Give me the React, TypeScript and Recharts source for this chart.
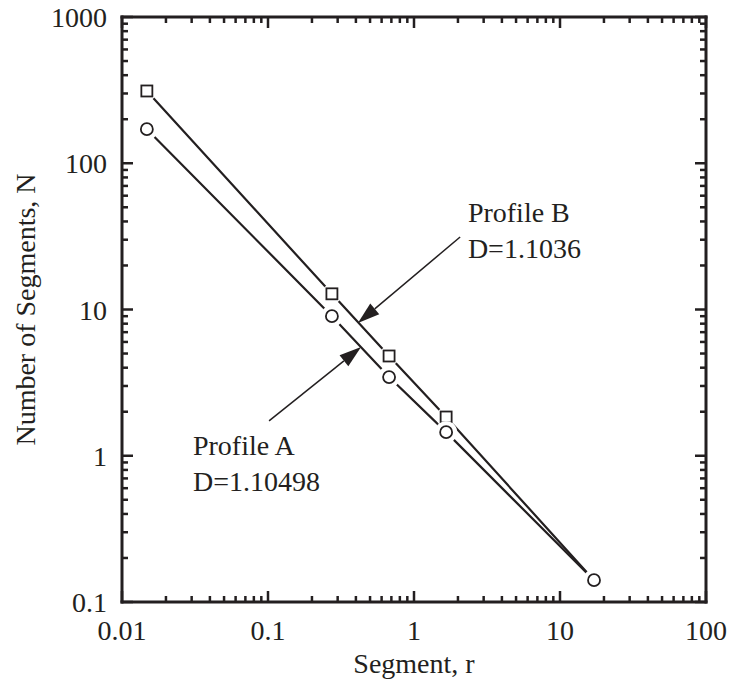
import React from "react";
import { LineChart, Line, XAxis, YAxis, ReferenceLine, ReferenceDot } from "recharts";

// segment length r, shared by both profiles
const segmentR = [0.0148, 0.274, 0.675, 1.66, 17.1];
// number of segments N
const countA = [171, 9.0, 3.45, 1.45, 0.141];
const countB = [312, 12.8, 4.81, 1.84, 0.141];

const xMajors = [0.01, 0.1, 1, 10, 100];
const yMajors = [0.1, 1, 10, 100, 1000];
const xTickLabels = ["0.01", "0.1", "1", "10", "100"];
const yTickLabels = ["0.1", "1", "10", "100", "1000"];
const minorSteps = [2, 3, 4, 5, 6, 7, 8, 9];

// annotations, in data units: [r, N]
const labelA = ["Profile A", "D=1.10498"];
const labelB = ["Profile B", "D=1.1036"];
const textPosA = [0.0306, 1.01];
const textPosB = [2.34, 39.7];
const arrowA = [[0.1017, 1.73], [0.434, 5.54]];
const arrowB = [[2.07, 31.3], [0.413, 8.09]];

const dataA = segmentR.map((r, i) => ({ r, n: countA[i] }));
const dataB = segmentR.map((r, i) => ({ r, n: countB[i] }));

const INK = "#231f20";
const FONT = '"Liberation Serif", "Times New Roman", serif';
const FS = 28;

const withMinors = (majors: number[]) => {
    const out: number[] = [];
    majors.forEach((m, i) => {
        out.push(m);
        if (i < majors.length - 1) minorSteps.forEach((s) => out.push(+(m * s).toPrecision(6)));
    });
    return out;
};
const xTicks = withMinors(xMajors);
const yTicks = withMinors(yMajors);

const majorIndex = (majors: number[], v: number) =>
    majors.findIndex((m) => Math.abs(m - v) < m * 1e-6);

const BottomTick = ({ x, y, payload }: any) => {
    const i = majorIndex(xMajors, payload.value);
    return (
        <g>
            <line x1={x} x2={x} y1={y} y2={y - (i >= 0 ? 11 : 6)} stroke={INK} strokeWidth={2.5} />
            {i >= 0 && (
                <text x={x} y={y + 38} textAnchor="middle" fontSize={FS} fontFamily={FONT} fill={INK}>
                    {xTickLabels[i]}
                </text>
            )}
        </g>
    );
};

const TopTick = ({ x, y, payload }: any) => {
    const i = majorIndex(xMajors, payload.value);
    return <line x1={x} x2={x} y1={y} y2={y + (i >= 0 ? 11 : 6)} stroke={INK} strokeWidth={2.5} />;
};

const LeftTick = ({ x, y, payload }: any) => {
    const i = majorIndex(yMajors, payload.value);
    return (
        <g>
            <line x1={x} x2={x + (i >= 0 ? 11 : 6)} y1={y} y2={y} stroke={INK} strokeWidth={2.5} />
            {i >= 0 && (
                <text x={x - 15} y={y + 10} textAnchor="end" fontSize={FS} fontFamily={FONT} fill={INK}>
                    {yTickLabels[i]}
                </text>
            )}
        </g>
    );
};

const RightTick = ({ x, y, payload }: any) => {
    const i = majorIndex(yMajors, payload.value);
    return <line x1={x} x2={x - (i >= 0 ? 11 : 6)} y1={y} y2={y} stroke={INK} strokeWidth={2.5} />;
};

const squareDot = (p: any) => {
    const { cx, cy, index } = p;
    if (cx == null || cy == null) return <g key={`sq-${index}`} />;
    return (
        <g key={`sq-${index}`}>
            <circle cx={cx} cy={cy} r={10} fill="#fff" />
            <rect x={cx - 5.5} y={cy - 5.5} width={11} height={11} fill="#fff" stroke={INK} strokeWidth={1.8} />
        </g>
    );
};

const circleDot = (p: any) => {
    const { cx, cy, index } = p;
    if (cx == null || cy == null) return <g key={`ci-${index}`} />;
    return (
        <g key={`ci-${index}`}>
            <circle cx={cx} cy={cy} r={11} fill="#fff" />
            <circle cx={cx} cy={cy} r={6} fill="#fff" stroke={INK} strokeWidth={1.8} />
        </g>
    );
};

const arrowShape = (p: any) => {
    const { x1, y1, x2, y2 } = p;
    const len = Math.hypot(x2 - x1, y2 - y1) || 1;
    const ux = (x2 - x1) / len;
    const uy = (y2 - y1) / len;
    const hl = 22;
    const hw = 7;
    const bx = x2 - ux * hl;
    const by = y2 - uy * hl;
    return (
        <g>
            <line x1={x1} y1={y1} x2={bx} y2={by} stroke={INK} strokeWidth={1.5} />
            <polygon
                points={`${x2},${y2} ${bx - uy * hw},${by + ux * hw} ${bx + uy * hw},${by - ux * hw}`}
                fill={INK}
            />
        </g>
    );
};

const textShape = (lines: string[]) => (p: any) => (
    <g>
        {lines.map((t, i) => (
            <text key={t} x={p.cx} y={p.cy + i * 36} fontSize={FS} fontFamily={FONT} fill={INK}>
                {t}
            </text>
        ))}
    </g>
);

const axisLine = { stroke: INK, strokeWidth: 3, strokeLinecap: "square" as const };

export default function App() {
    return (
        <div style={{ position: "absolute", left: 0, top: 0, width: 733, height: 700, background: "#fff" }}>
            <LineChart width={733} height={700} margin={{ top: 16, right: 0, bottom: 0, left: 0 }}>
                <XAxis
                    dataKey="r"
                    type="number"
                    scale="log"
                    domain={[0.01, 100]}
                    allowDataOverflow
                    ticks={xTicks}
                    interval={0}
                    tickSize={0}
                    tickMargin={0}
                    tick={<BottomTick />}
                    tickLine={false}
                    axisLine={axisLine}
                    height={98}
                    label={{
                        content: (p: any) => {
                            const vb = p.viewBox || {};
                            return (
                                <text x={vb.x + vb.width / 2} y={vb.y + 71} textAnchor="middle" fontSize={FS} fontFamily={FONT} fill={INK}>
                                    Segment, r
                                </text>
                            );
                        },
                    }}
                />
                <XAxis
                    xAxisId="top"
                    orientation="top"
                    dataKey="r"
                    type="number"
                    scale="log"
                    domain={[0.01, 100]}
                    allowDataOverflow
                    ticks={xTicks}
                    interval={0}
                    tickSize={0}
                    tickMargin={0}
                    tick={<TopTick />}
                    tickLine={false}
                    axisLine={axisLine}
                    height={1}
                />
                <YAxis
                    type="number"
                    scale="log"
                    domain={[0.1, 1000]}
                    allowDataOverflow
                    ticks={yTicks}
                    interval={0}
                    tickSize={0}
                    tickMargin={0}
                    tick={<LeftTick />}
                    tickLine={false}
                    axisLine={axisLine}
                    width={122}
                    label={{
                        content: (p: any) => {
                            const vb = p.viewBox || {};
                            const cx = vb.x + 35;
                            const cy = vb.y + vb.height / 2;
                            return (
                                <text
                                    x={cx}
                                    y={cy}
                                    transform={`rotate(-90 ${cx} ${cy})`}
                                    textAnchor="middle"
                                    fontSize={FS}
                                    fontFamily={FONT}
                                    fill={INK}
                                >
                                    Number of Segments, N
                                </text>
                            );
                        },
                    }}
                />
                <YAxis
                    yAxisId="right"
                    orientation="right"
                    type="number"
                    scale="log"
                    domain={[0.1, 1000]}
                    allowDataOverflow
                    ticks={yTicks}
                    interval={0}
                    tickSize={0}
                    tickMargin={0}
                    tick={<RightTick />}
                    tickLine={false}
                    axisLine={axisLine}
                    width={27}
                />

                <Line
                    data={dataB}
                    dataKey="n"
                    type="linear"
                    stroke={INK}
                    strokeWidth={2.2}
                    dot={squareDot}
                    activeDot={false}
                    isAnimationActive={false}
                />
                <Line
                    data={dataA}
                    dataKey="n"
                    type="linear"
                    stroke={INK}
                    strokeWidth={2.2}
                    dot={circleDot}
                    activeDot={false}
                    isAnimationActive={false}
                />

                <ReferenceLine
                    segment={[{ x: arrowB[0][0], y: arrowB[0][1] }, { x: arrowB[1][0], y: arrowB[1][1] }]}
                    shape={arrowShape}
                />
                <ReferenceLine
                    segment={[{ x: arrowA[0][0], y: arrowA[0][1] }, { x: arrowA[1][0], y: arrowA[1][1] }]}
                    shape={arrowShape}
                />
                <ReferenceDot x={textPosB[0]} y={textPosB[1]} r={0} shape={textShape(labelB)} />
                <ReferenceDot x={textPosA[0]} y={textPosA[1]} r={0} shape={textShape(labelA)} />
            </LineChart>
        </div>
    );
}
